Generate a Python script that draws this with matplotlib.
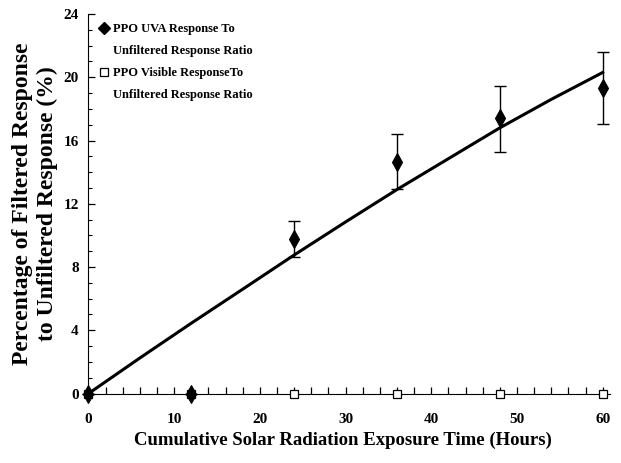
import matplotlib
matplotlib.use("Agg")
import matplotlib.pyplot as plt
from matplotlib.ticker import MultipleLocator
from matplotlib.lines import Line2D

# Data
hours = [0, 12, 24, 36, 48, 60]
uva_ratio = [0.0, 0.0, 9.77, 14.66, 17.4, 19.34]
uva_err_low = [0.0, 0.0, 1.14, 1.74, 2.13, 2.29]
uva_err_high = [0.0, 0.0, 1.14, 1.75, 2.05, 2.28]
vis_ratio = [0.0, 0.0, 0.0, 0.0, 0.0, 0.0]

fit_hours = [0, 6, 12, 18, 24, 30, 36, 42, 48, 54, 60]
fit_ratio = [0.0, 2.25, 4.45, 6.6, 8.76, 10.85, 12.9, 14.85, 16.8, 18.6, 20.3]

xticks = [0, 10, 20, 30, 40, 50, 60]
yticks = [0, 4, 8, 12, 16, 20, 24]

uva_label = ['PPO UVA Response To', 'Unfiltered Response Ratio']
vis_label = ['PPO Visible ResponseTo', 'Unfiltered Response Ratio']

plt.rcParams['font.family'] = ['Liberation Serif', 'DejaVu Serif']
plt.rcParams['font.weight'] = 'bold'

fig = plt.figure(figsize=(6.21, 4.63), dpi=100)
ax = fig.add_axes([0.1425, 0.150, 0.8390, 0.8198])

ax.plot(fit_hours, fit_ratio, color='black', lw=2.2, zorder=2, clip_on=False)
ax.errorbar(hours, uva_ratio, yerr=[uva_err_low, uva_err_high], fmt='none',
            ecolor='black', elinewidth=1.0, capsize=4, capthick=1.0,
            zorder=3, clip_on=False)
uva_h, = ax.plot(hours, uva_ratio, 'd', color='black', ms=9, mew=0.8,
                 ls='none', zorder=4, clip_on=False)
vis_h, = ax.plot(hours, vis_ratio, 's', mfc='white', mec='black', mew=0.9,
                 ms=6, ls='none', zorder=3, clip_on=False)

ax.set_xlim(0, 60.8)
ax.set_ylim(0, 24)
ax.set_xticks(xticks)
ax.set_yticks(yticks)
ax.xaxis.set_minor_locator(MultipleLocator(2))
ax.yaxis.set_minor_locator(MultipleLocator(1))
ax.tick_params(which='both', direction='in', labelsize=11)
ax.tick_params(axis='x', which='both', length=5, width=0.9)
ax.tick_params(axis='y', which='major', length=5, width=0.9)
ax.tick_params(axis='y', which='minor', length=3, width=0.8)
ax.tick_params(axis='x', pad=14)
ax.tick_params(axis='y', pad=7)
for lab in ax.get_xticklabels() + ax.get_yticklabels():
    lab.set_fontweight('bold')

ax.spines['top'].set_visible(False)
ax.spines['right'].set_visible(False)

ax.set_xlabel('Cumulative Solar Radiation Exposure Time (Hours)',
              fontsize=13.5, fontweight='bold', labelpad=4)
ax.xaxis.label.set_x(0.488)
ax.set_ylabel('Percentage of Filtered Response\nto Unfiltered Response (%)',
              fontsize=17, fontweight='bold', labelpad=4, linespacing=1.2)

blank = Line2D([], [], ls='none', marker='None')
leg_uva = Line2D([], [], ls='none', marker='D', color='black', ms=6)
leg_vis = Line2D([], [], ls='none', marker='s', mfc='white', mec='black',
                 mew=0.9, ms=6)
leg = ax.legend([leg_uva, blank, leg_vis, blank],
                [uva_label[0], uva_label[1], vis_label[0], vis_label[1]],
                loc='upper left', bbox_to_anchor=(0.005, 0.995), frameon=False,
                fontsize=9, handlelength=0.8, handletextpad=0.35,
                labelspacing=0.8, borderaxespad=0.2)
for t in leg.get_texts():
    t.set_fontweight('bold')

fig.savefig('out.png', dpi=100)
